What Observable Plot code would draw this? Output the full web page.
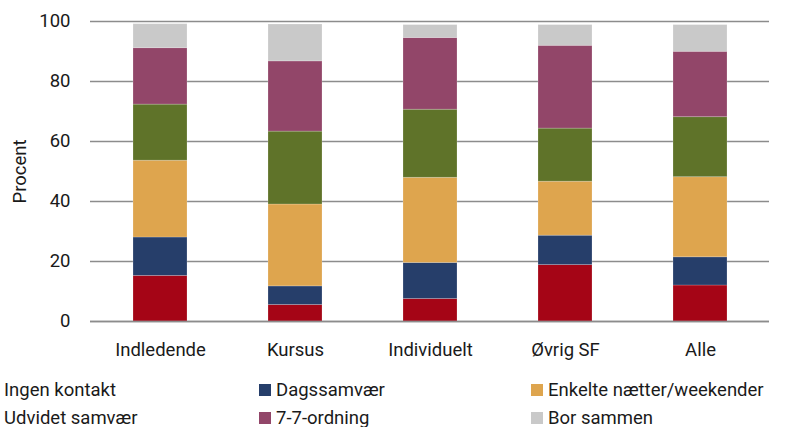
<!DOCTYPE html>
<html>
<head>
<meta charset="utf-8">
<script src="https://cdn.jsdelivr.net/npm/d3@7"></script>
<script src="https://cdn.jsdelivr.net/npm/@observablehq/plot@0.6"></script>
<style>
  html, body { margin: 0; padding: 0; background: #fff; overflow: hidden; }
  body { width: 787px; height: 427px; position: relative; font-family: Roboto, "Noto Sans", sans-serif; }
  #chart { position: absolute; left: 0; top: 0; }
  #legend { position: absolute; left: -13px; top: 376px; display: grid; grid-template-columns: 272px 272px 272px; grid-auto-rows: 28px; font-size: 18.5px; line-height: 16px; color: #1a1a1a; }
  .item { display: flex; align-items: center; white-space: nowrap; height: 27px; }
  .sw { width: 12px; height: 12px; margin-right: 5px; flex: none; }
</style>
</head>
<body>
<div id="chart"></div>
<div id="legend"></div>
<script>
const categories = ["Indledende", "Kursus", "Individuelt", "Øvrig SF", "Alle"];
const seriesNames = ["Ingen kontakt", "Dagssamvær", "Enkelte nætter/weekender", "Udvidet samvær", "7-7-ordning", "Bor sammen"];
const ingenKontakt = [15.2, 5.5, 7.5, 18.8, 12.0];
const dagssamvaer = [12.8, 6.2, 12.0, 9.8, 9.4];
const enkelteNaetter = [25.6, 27.3, 28.4, 18.0, 26.7];
const udvidetSamvaer = [18.7, 24.3, 22.7, 17.7, 20.0];
const syvSyvOrdning = [18.8, 23.4, 23.9, 27.6, 21.8];
const borSammen = [8.0, 12.3, 4.3, 6.9, 8.9];
const yTicks = [0, 20, 40, 60, 80, 100];
const colors = ["#a50516", "#263e6a", "#dea54e", "#5f7329", "#924669", "#c9c9c9"];

const seriesValues = [ingenKontakt, dagssamvaer, enkelteNaetter, udvidetSamvaer, syvSyvOrdning, borSammen];
const data = [];
seriesNames.forEach((s, si) => {
  categories.forEach((c, ci) => {
    data.push({category: c, series: s, value: seriesValues[si][ci]});
  });
});

const chart = Plot.plot({
  width: 787,
  height: 365,
  marginTop: 21,
  marginBottom: 44,
  marginLeft: 90,
  marginRight: 18,
  style: {fontFamily: "Roboto, 'Noto Sans', sans-serif", fontSize: "18.5px", color: "#1a1a1a", background: "white"},
  x: {domain: categories, paddingInner: 0.6, paddingOuter: 0.3, label: null},
  y: {domain: [0, 100], ticks: yTicks, label: "Procent"},
  color: {domain: seriesNames, range: colors},
  marks: [
    Plot.gridY(yTicks, {stroke: "#8c8c8c", strokeOpacity: 1, strokeWidth: 1.6}),
    Plot.barY(data, {x: "category", y: "value", fill: "series", order: seriesNames, stroke: "white", strokeOpacity: 0.25, strokeWidth: 0.8}),
    Plot.ruleY([0], {stroke: "#8c8c8c", strokeWidth: 1.6}),
    Plot.axisX({tickSize: 0, tickPadding: 21, label: null, fontSize: "18.5px"}),
    Plot.axisY(yTicks, {tickSize: 0, tickPadding: 20, label: "Procent", labelAnchor: "center", labelArrow: "none", labelOffset: 78, fontSize: "18.5px"})
  ]
});
document.getElementById("chart").appendChild(chart);

const legend = document.getElementById("legend");
seriesNames.forEach((s, i) => {
  const it = document.createElement("div");
  it.className = "item";
  const sw = document.createElement("span");
  sw.className = "sw";
  sw.style.background = colors[i];
  const tx = document.createElement("span");
  tx.textContent = s;
  it.appendChild(sw);
  it.appendChild(tx);
  legend.appendChild(it);
});
</script>
</body>
</html>
